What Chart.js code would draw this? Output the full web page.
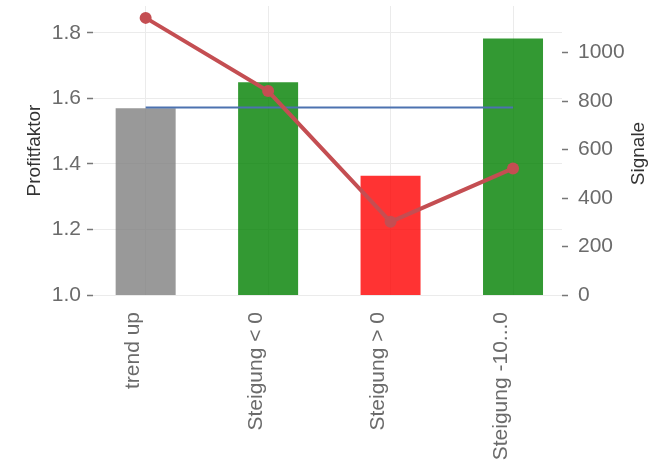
<!DOCTYPE html>
<html>
<head>
<meta charset="utf-8">
<script src="https://cdn.jsdelivr.net/npm/chart.js@4.4.1/dist/chart.umd.min.js"></script>
<style>
  html, body { margin: 0; padding: 0; background: #fff; }
  #wrap { width: 651px; height: 466px; }
</style>
</head>
<body>
<div id="wrap"><canvas id="chart"></canvas></div>
<script>
const categories = ['trend up', 'Steigung < 0', 'Steigung > 0', 'Steigung -10...0'];
const profitFactor = [1.570, 1.649, 1.364, 1.783];
const signals = [1143, 841, 302, 522];
const avgProfitFactor = [1.572, 1.572, 1.572, 1.572];
const barColors = ['rgba(128,128,128,0.8)', 'rgba(0,128,0,0.8)', 'rgba(255,0,0,0.8)', 'rgba(0,128,0,0.8)'];
const leftTicks = [1.0, 1.2, 1.4, 1.6, 1.8];
const rightTicks = [0, 200, 400, 600, 800, 1000];

const toPoints = arr => arr.map((v, i) => ({ x: i, y: v }));
const FONT = '"Liberation Sans", Arial, sans-serif';
Chart.defaults.font.family = FONT;

// right axis title reads bottom-to-top, chart.js would rotate it the other way
const rightTitle = {
    id: 'rightTitle',
    afterDraw(chart) {
        const ctx = chart.ctx;
        const area = chart.chartArea;
        ctx.save();
        ctx.translate(chart.width - 12, (area.top + area.bottom) / 2 + 3);
        ctx.rotate(-Math.PI / 2);
        ctx.font = '19px ' + FONT;
        ctx.fillStyle = '#333';
        ctx.textAlign = 'center';
        ctx.textBaseline = 'middle';
        ctx.fillText('Signale', 0, 0);
        ctx.restore();
    }
};

const ctx = document.getElementById('chart').getContext('2d');
const chart = new Chart(ctx, {
    type: 'bar',
    data: {
        datasets: [
            {
                type: 'line',
                label: 'Signale',
                data: toPoints(signals),
                yAxisID: 'y1',
                borderColor: '#c44e52',
                backgroundColor: '#c44e52',
                borderWidth: 4,
                pointRadius: 6,
                pointBorderWidth: 0,
                pointBackgroundColor: '#c44e52',
                tension: 0,
                order: 0
            },
            {
                type: 'line',
                label: 'Durchschnitt',
                data: toPoints(avgProfitFactor),
                yAxisID: 'y',
                borderColor: '#4c72b0',
                borderWidth: 2,
                pointRadius: 0,
                order: 1
            },
            {
                label: 'Profitfaktor',
                data: toPoints(profitFactor),
                yAxisID: 'y',
                backgroundColor: barColors,
                borderWidth: 0,
                categoryPercentage: 1,
                barPercentage: 0.49,
                order: 2
            }
        ]
    },
    options: {
        responsive: true,
        maintainAspectRatio: false,
        animation: false,
        layout: { padding: { top: 1 } },
        scales: {
            x: {
                type: 'linear',
                min: -0.43,
                max: 3.4,
                offset: false,
                border: { display: false },
                grid: { offset: false, color: '#ebebeb', drawTicks: false },
                afterBuildTicks: axis => { axis.ticks = categories.map((c, i) => ({ value: i })); },
                afterFit: axis => { axis.height = 171; axis.paddingLeft = 0; axis.paddingRight = 0; },
                ticks: {
                    callback: v => categories[v],
                    minRotation: 90,
                    maxRotation: 90,
                    autoSkip: false,
                    padding: 17,
                    labelOffset: -12,
                    color: '#6b6b6b',
                    font: { size: 21 }
                }
            },
            y: {
                position: 'left',
                min: 1.0,
                max: 1.882,
                border: { display: false },
                grid: { color: '#ebebeb', tickColor: '#777', tickLength: 6, tickWidth: 1.5 },
                afterBuildTicks: axis => { axis.ticks = leftTicks.map(v => ({ value: v })); },
                afterFit: axis => { axis.width = 93; axis.paddingTop = 0; axis.paddingBottom = 0; },
                ticks: {
                    callback: v => v.toFixed(1),
                    padding: 6,
                    color: '#6b6b6b',
                    font: { size: 21 }
                },
                title: {
                    display: true,
                    text: 'Profitfaktor',
                    color: '#333',
                    font: { size: 19 },
                    padding: { top: 23, bottom: 0 }
                }
            },
            y1: {
                position: 'right',
                min: 0,
                max: 1192,
                border: { display: false },
                grid: { drawOnChartArea: false, tickColor: '#777', tickLength: 6, tickWidth: 1.5 },
                afterBuildTicks: axis => { axis.ticks = rightTicks.map(v => ({ value: v })); },
                afterFit: axis => { axis.width = 89; axis.paddingTop = 0; axis.paddingBottom = 0; },
                ticks: {
                    callback: v => String(v),
                    padding: 10,
                    color: '#6b6b6b',
                    font: { size: 21 }
                }
            }
        },
        plugins: {
            legend: { display: false },
            tooltip: { enabled: false }
        }
    },
    plugins: [rightTitle]
});
</script>
</body>
</html>
